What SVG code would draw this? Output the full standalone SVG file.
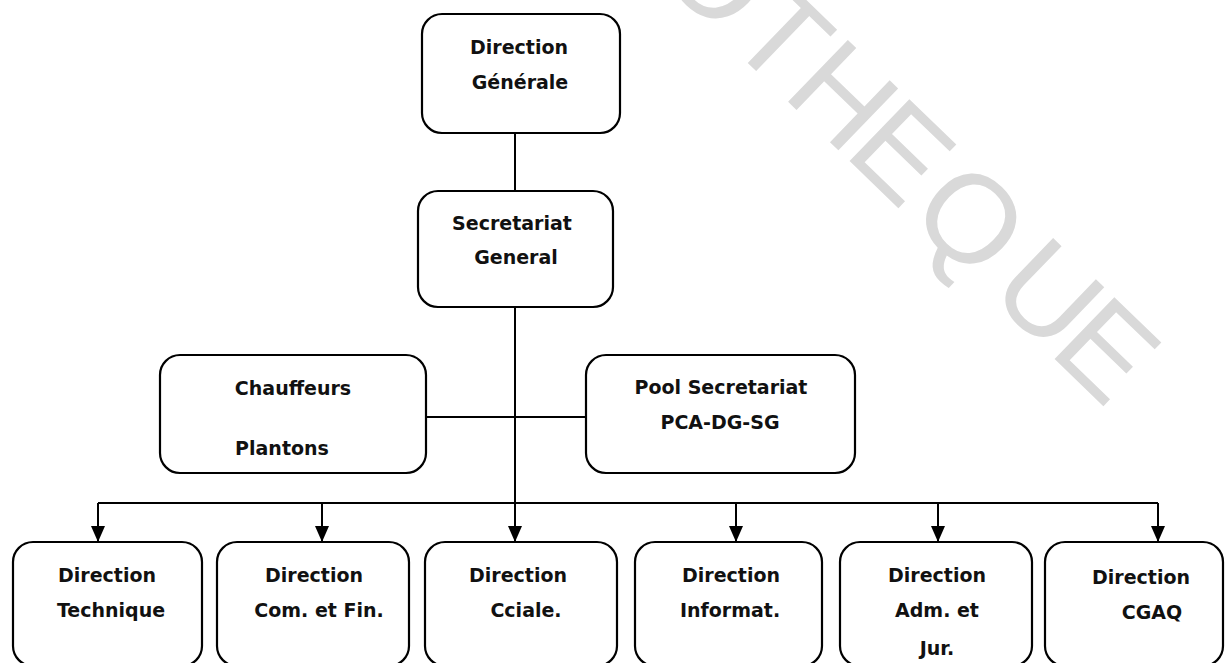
<svg xmlns="http://www.w3.org/2000/svg" width="1225" height="663" viewBox="0 0 1225 663">
  <defs>
    <style>
      .box { fill: #ffffff; stroke: #000000; stroke-width: 2.2; }
      .lbl { font-family: "DejaVu Sans", "Liberation Sans", sans-serif; font-weight: bold; font-size: 19px; fill: #111111; text-anchor: middle; }
      .wire { fill: none; stroke: #000000; stroke-width: 2; }
      .mark { font-family: "Liberation Sans", Arial, sans-serif; font-size: 125px; fill: #d9d9d9; text-anchor: middle; }
    </style>
    <marker id="arrow" viewBox="0 0 16 14" refX="16" refY="7" markerWidth="16" markerHeight="14" markerUnits="userSpaceOnUse" orient="auto">
      <path d="M0,0 L16,7 L0,14 z" fill="#000000"/>
    </marker>
  </defs>

  <rect width="1225" height="663" fill="#ffffff"/>

  <!-- diagonal library stamp in the background -->
  <g id="stamp" transform="translate(752,67) rotate(44)">
    <text class="mark"><tspan x="-90" y="0">O</tspan><tspan x="0" y="0">T</tspan><tspan x="85" y="0">H</tspan><tspan x="167" y="0">E</tspan><tspan x="263" y="0">Q</tspan><tspan x="371" y="0">U</tspan><tspan x="452" y="0">E</tspan></text>
  </g>

  <!-- connectors -->
  <g id="connectors">
    <line class="wire" x1="515" y1="133" x2="515" y2="191"/>
    <line class="wire" x1="515" y1="307" x2="515" y2="542" marker-end="url(#arrow)"/>
    <line class="wire" x1="426" y1="417" x2="585" y2="417"/>
    <line class="wire" x1="98" y1="503" x2="1158" y2="503"/>
    <line class="wire" x1="98" y1="503" x2="98" y2="542" marker-end="url(#arrow)"/>
    <line class="wire" x1="322" y1="503" x2="322" y2="542" marker-end="url(#arrow)"/>
    <line class="wire" x1="736" y1="503" x2="736" y2="542" marker-end="url(#arrow)"/>
    <line class="wire" x1="938" y1="503" x2="938" y2="542" marker-end="url(#arrow)"/>
    <line class="wire" x1="1158" y1="503" x2="1158" y2="542" marker-end="url(#arrow)"/>
  </g>

  <g id="direction-generale">
    <rect class="box" x="422" y="14" width="198" height="119" rx="20"/>
    <text class="lbl" x="519" y="54">Direction</text>
    <text class="lbl" x="520" y="89">Générale</text>
  </g>

  <g id="secretariat-general">
    <rect class="box" x="418" y="191" width="195" height="116" rx="20"/>
    <text class="lbl" x="512" y="230">Secretariat</text>
    <text class="lbl" x="516" y="264">General</text>
  </g>

  <g id="chauffeurs">
    <rect class="box" x="160" y="355" width="266" height="118" rx="20"/>
    <text class="lbl" x="293" y="395">Chauffeurs</text>
    <text class="lbl" x="282" y="455">Plantons</text>
  </g>

  <g id="pool-secretariat">
    <rect class="box" x="586" y="355" width="269" height="118" rx="20"/>
    <text class="lbl" x="721" y="394">Pool Secretariat</text>
    <text class="lbl" x="720" y="429">PCA-DG-SG</text>
  </g>

  <g id="dir-technique">
    <rect class="box" x="13" y="542" width="189" height="124" rx="20"/>
    <text class="lbl" x="107" y="582">Direction</text>
    <text class="lbl" x="111" y="617">Technique</text>
  </g>

  <g id="dir-com-fin">
    <rect class="box" x="217" y="542" width="192" height="124" rx="20"/>
    <text class="lbl" x="314" y="582">Direction</text>
    <text class="lbl" x="319" y="617">Com. et Fin.</text>
  </g>

  <g id="dir-cciale">
    <rect class="box" x="425" y="542" width="192" height="124" rx="20"/>
    <text class="lbl" x="518" y="582">Direction</text>
    <text class="lbl" x="526" y="617">Cciale.</text>
  </g>

  <g id="dir-informat">
    <rect class="box" x="635" y="542" width="187" height="124" rx="20"/>
    <text class="lbl" x="731" y="582">Direction</text>
    <text class="lbl" x="730" y="617">Informat.</text>
  </g>

  <g id="dir-adm-jur">
    <rect class="box" x="840" y="542" width="192" height="124" rx="20"/>
    <text class="lbl" x="937" y="582">Direction</text>
    <text class="lbl" x="937" y="617">Adm. et</text>
    <text class="lbl" x="937" y="655">Jur.</text>
  </g>

  <g id="dir-cgaq">
    <rect class="box" x="1045" y="542" width="178" height="124" rx="20"/>
    <text class="lbl" x="1141" y="584">Direction</text>
    <text class="lbl" x="1152" y="619">CGAQ</text>
  </g>
</svg>
